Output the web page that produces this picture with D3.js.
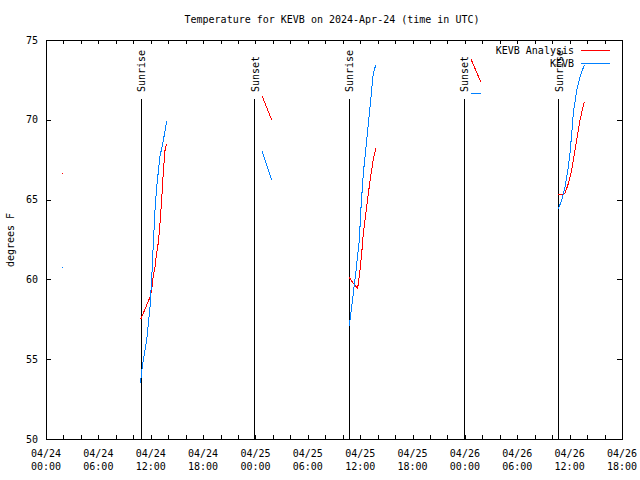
<!DOCTYPE html>
<html>
<head>
<meta charset="utf-8">
<script src="https://cdn.jsdelivr.net/npm/d3@7"></script>
<style>
  body { margin: 0; background: #fff; }
  text { font-family: "DejaVu Sans Mono", monospace; font-size: 10px; fill: #000; }
</style>
</head>
<body>
<svg id="chart" width="640" height="480"></svg>
<script>
// Hours since 2024-04-24 00:00 UTC; null separates segments
const analysisHours = [1.87, null,
  10.85, 11.4, 11.92, 12.11, 12.23, 12.49, 12.68, 12.87, 13.06, 13.26, 13.44, 13.64, 13.83, null,
  24.75, 25.86, null,
  34.75, 35.22, 35.71, 35.98, 36.17, 36.36, 36.75, 37.13, 37.5, 37.78, null,
  48.7, 49.8, null,
  58.7, 59.09, 59.47, 59.85, 60.24, 60.42, 60.81, 61.19, 61.68];
const analysisTemps = [66.65, null,
  57.5, 58.2, 58.9, 59.3, 60.0, 60.8, 61.65, 62.3, 63.5, 65.0, 66.7, 68.1, 68.5, null,
  71.5, 70.0, null,
  60.13, 59.75, 59.44, 60.57, 61.6, 62.9, 64.56, 66.2, 67.5, 68.2, null,
  73.8, 72.4, null,
  65.29, 65.33, 65.4, 66.0, 66.85, 67.5, 68.73, 70.0, 71.13];

const obsHours = [1.87, null,
  10.83, 11.0, 11.15, 11.54, 11.92, 12.11, 12.3, 12.49, 12.68, 13.06, 13.44, 13.83, null,
  24.75, 25.86, null,
  34.75, 35.49, 35.9, 36.1, 36.36, 36.75, 37.13, 37.5, 37.78, null,
  48.7, 49.8, null,
  58.7, 59.09, 59.47, 59.85, 60.04, 60.24, 60.42, 60.81, 61.19, 61.68];
const obsTemps = [60.76, null,
  53.5, 54.4, 54.95, 56.2, 58.3, 60.0, 62.3, 64.35, 65.8, 67.7, 68.7, 69.9, null,
  68.05, 66.2, null,
  57.08, 60.38, 62.47, 64.56, 66.65, 68.73, 70.82, 72.91, 73.43, null,
  71.64, 71.64, null,
  64.41, 64.97, 65.8, 67.06, 67.9, 69.15, 70.4, 71.87, 72.7, 73.43];

const sunEvents = [
  {h: 10.92, label: "Sunrise"},
  {h: 23.9, label: "Sunset"},
  {h: 34.75, label: "Sunrise"},
  {h: 47.9, label: "Sunset"},
  {h: 58.78, label: "Sunrise"}
];

const xTickHours = [0, 6, 12, 18, 24, 30, 36, 42, 48, 54, 60, 66];
const xTickDates = ["04/24","04/24","04/24","04/24","04/25","04/25","04/25","04/25","04/26","04/26","04/26","04/26"];
const xTickTimes = ["00:00","06:00","12:00","18:00","00:00","06:00","12:00","18:00","00:00","06:00","12:00","18:00"];
const yTicks = [50, 55, 60, 65, 70, 75];

const seriesNames = ["KEVB Analysis", "KEVB"];
const seriesColors = ["#ff0000", "#0080ff"];
const titleText = "Temperature for KEVB on 2024-Apr-24 (time in UTC)";

const svg = d3.select("#chart");
const x = d3.scaleLinear().domain([0, 66]).range([46, 622]);
const y = d3.scaleLinear().domain([50, 75]).range([439, 40]);

// title
svg.append("text").attr("x", 332).attr("y", 23).attr("text-anchor", "middle").text(titleText);
// y label
svg.append("text").attr("transform", "translate(14,240) rotate(-90)")
  .attr("text-anchor", "middle").text("degrees F");

// axes ticks
const gx = svg.append("g").attr("transform", `translate(0,${y(50)})`)
  .call(d3.axisBottom(x).tickValues(d3.range(0, 67, 2)).tickSize(-4).tickFormat(""));
const gxt = svg.append("g").attr("transform", `translate(0,${y(75)})`)
  .call(d3.axisTop(x).tickValues(d3.range(0, 67, 2)).tickSize(-4).tickFormat(""));
const gy = svg.append("g").attr("transform", `translate(${x(0)},0)`)
  .call(d3.axisLeft(y).tickValues(yTicks).tickSize(-5).tickFormat(""));
const gyr = svg.append("g").attr("transform", `translate(${x(66)},0)`)
  .call(d3.axisRight(y).tickValues(yTicks).tickSize(-5).tickFormat(""));
[gx, gxt, gy, gyr].forEach(g => {
  g.select(".domain").remove();
  g.selectAll("line").attr("stroke", "#000").attr("shape-rendering", "crispEdges");
});

// y tick labels
svg.append("g").selectAll("text").data(yTicks).join("text")
  .attr("x", 38).attr("y", d => y(d)).attr("dy", "0.35em")
  .attr("text-anchor", "end").text(d => d);

// x tick labels
const xl = svg.append("g").selectAll("text").data(xTickHours).join("text")
  .attr("text-anchor", "middle");
xl.append("tspan").attr("x", d => x(d)).attr("y", 457).text((d, i) => xTickDates[i]);
xl.append("tspan").attr("x", d => x(d)).attr("y", 469.5).text((d, i) => xTickTimes[i]);

// sunrise / sunset markers
sunEvents.forEach(e => {
  svg.append("line").attr("x1", x(e.h)).attr("x2", x(e.h))
    .attr("y1", 99).attr("y2", y(50)).attr("stroke", "#000")
    .attr("shape-rendering", "crispEdges");
  svg.append("text").attr("transform", `translate(${x(e.h) + 4},92) rotate(-90)`)
    .attr("text-anchor", "start").text(e.label);
});

// data
function drawSeries(hours, temps, color) {
  const pts = hours.map((h, i) => ({h, t: temps[i]}));
  const line = d3.line().defined(d => d.h !== null && d.t !== null)
    .x(d => x(d.h)).y(d => y(d.t));
  svg.append("path").datum(pts).attr("d", line).attr("fill", "none")
    .attr("stroke", color).attr("stroke-width", 1).attr("shape-rendering", "crispEdges");
  // isolated points
  pts.forEach((d, i) => {
    if (d.h === null) return;
    const prev = pts[i - 1], next = pts[i + 1];
    const lone = (!prev || prev.h === null) && (!next || next.h === null);
    if (lone) svg.append("rect").attr("x", Math.round(x(d.h))).attr("y", Math.round(y(d.t)))
      .attr("width", 1).attr("height", 1).attr("fill", color);
  });
}
drawSeries(analysisHours, analysisTemps, seriesColors[0]);
drawSeries(obsHours, obsTemps, seriesColors[1]);

// border
svg.append("rect").attr("x", x(0)).attr("y", y(75)).attr("width", x(66) - x(0))
  .attr("height", y(50) - y(75)).attr("fill", "none").attr("stroke", "#000")
  .attr("shape-rendering", "crispEdges");

// legend
seriesNames.forEach((name, i) => {
  const ly = 50 + i * 13.5;
  svg.append("text").attr("x", 574).attr("y", ly).attr("dy", "0.35em")
    .attr("text-anchor", "end").text(name);
  svg.append("line").attr("x1", 581).attr("x2", 610).attr("y1", ly).attr("y2", ly)
    .attr("stroke", seriesColors[i]).attr("shape-rendering", "crispEdges");
});
</script>
</body>
</html>
